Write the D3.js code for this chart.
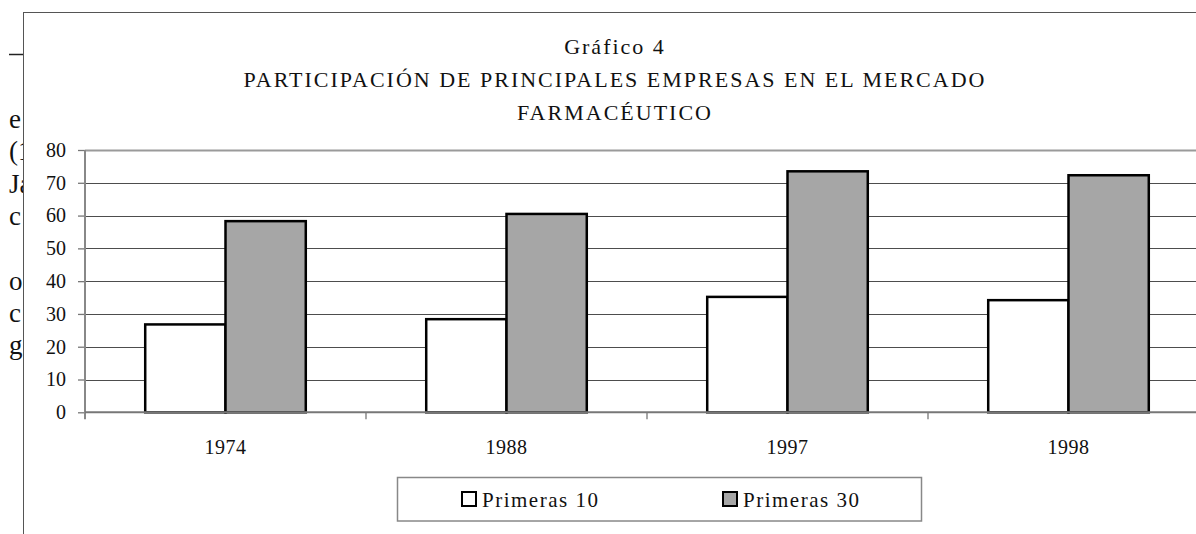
<!DOCTYPE html>
<html>
<head>
<meta charset="utf-8">
<script src="https://cdn.jsdelivr.net/npm/d3@7"></script>
<style>
  body { margin: 0; background: #fff; }
  svg text { font-family: "Liberation Serif", "Times New Roman", serif; fill: #111; }
</style>
</head>
<body>
<svg width="1196" height="534"></svg>
<script>
var years = ["1974", "1988", "1997", "1998"];
var seriesNames = ["Primeras 10", "Primeras 30"];
var primeras10 = [26.8, 28.4, 35.2, 34.2];
var primeras30 = [58.3, 60.5, 73.5, 72.3];
var yTicks = [0, 10, 20, 30, 40, 50, 60, 70, 80];
var titleLines = ["Gráfico 4", "PARTICIPACIÓN DE PRINCIPALES EMPRESAS EN EL MERCADO", "FARMACÉUTICO"];
// bits of the page text that stick out on the left of the chart frame
var marginText = ["e", "(1", "Ja", "c", "", "o", "c", "g"];

var svg = d3.select("svg");

var fills = d3.scaleOrdinal().domain(seriesNames).range(["#ffffff", "#a6a6a6"]);

// page text behind the frame
svg.append("g")
  .selectAll("text")
  .data(marginText)
  .enter().append("text")
    .attr("x", 9)
    .attr("y", function(d, i) { return 128 + i * 32.3; })
    .style("font-size", "27px")
    .text(function(d) { return d; });

svg.append("line")
    .attr("x1", 9).attr("x2", 24)
    .attr("y1", 54.5).attr("y2", 54.5)
    .style("stroke", "#222")
    .style("stroke-width", 1.5);

// chart frame
svg.append("rect")
    .attr("x", 23.5).attr("y", 12.5)
    .attr("width", 1300).attr("height", 700)
    .style("fill", "#fff")
    .style("stroke", "#555");

// title
svg.append("g")
  .selectAll("text")
  .data(titleLines)
  .enter().append("text")
    .attr("x", 615)
    .attr("y", function(d, i) { return 54 + i * 33; })
    .attr("text-anchor", "middle")
    .style("font-size", "22px")
    .style("letter-spacing", "2px")
    .text(function(d) { return d; });

var x = d3.scaleBand().domain(years).range([85, 1209]);
var x1 = d3.scaleBand()
    .domain(seriesNames)
    .range([x.bandwidth() * 0.2143, x.bandwidth() * 0.7857]);
var y = d3.scaleLinear().domain([0, 80]).range([412.3, 150]);

// gridlines
svg.append("g")
  .selectAll("line")
  .data(yTicks.slice(1))
  .enter().append("line")
    .attr("x1", 85).attr("x2", 1209)
    .attr("y1", function(d) { return Math.round(y(d)) + 0.5; })
    .attr("y2", function(d) { return Math.round(y(d)) + 0.5; })
    .style("stroke", function(d) { return d == 80 ? "#9a9a9a" : "#4d4d4d"; })
    .style("stroke-width", function(d) { return d == 80 ? 2 : 1.2; });

// y axis
var yAxis = svg.append("g")
    .attr("transform", "translate(85,0)")
    .call(d3.axisLeft(y).tickValues(yTicks).tickSize(7).tickSizeOuter(0).tickPadding(12));
yAxis.select(".domain").remove();
yAxis.selectAll(".tick line").style("stroke", "#777").style("stroke-width", 1.3);
yAxis.selectAll(".tick text")
    .style("font-size", "20px")
    .style("fill", "#111");

svg.append("line")
    .attr("x1", 85).attr("x2", 85)
    .attr("y1", y(80)).attr("y2", y(0) + 7)
    .style("stroke", "#888")
    .style("stroke-width", 2);

// x axis labels and separators
var xAxis = svg.append("g")
    .attr("transform", "translate(0," + y(0) + ")")
    .call(d3.axisBottom(x).tickSize(0).tickPadding(28));
xAxis.select(".domain").remove();
xAxis.selectAll(".tick text")
    .style("font-size", "20px")
    .style("letter-spacing", "0.5px")
    .style("fill", "#111");

svg.append("g")
  .selectAll("line")
  .data(years.slice(1))
  .enter().append("line")
    .attr("x1", function(d) { return x(d); })
    .attr("x2", function(d) { return x(d); })
    .attr("y1", y(0)).attr("y2", y(0) + 7)
    .style("stroke", "#777")
    .style("stroke-width", 1.3);

// bars
var groups = svg.append("g")
  .selectAll("g")
  .data(years)
  .enter().append("g")
    .attr("transform", function(d) { return "translate(" + x(d) + ",0)"; });

groups.selectAll("rect")
  .data(function(d, i) {
    return [
      { key: seriesNames[0], value: primeras10[i] },
      { key: seriesNames[1], value: primeras30[i] }
    ];
  })
  .enter().append("rect")
    .attr("x", function(d) { return x1(d.key); })
    .attr("y", function(d) { return y(d.value); })
    .attr("width", x1.bandwidth())
    .attr("height", function(d) { return y(0) - y(d.value); })
    .style("fill", function(d) { return fills(d.key); })
    .style("stroke", "#000")
    .style("stroke-width", 2.5);

// baseline over the bars' feet
svg.append("line")
    .attr("x1", 85).attr("x2", 1209)
    .attr("y1", y(0)).attr("y2", y(0))
    .style("stroke", "#777")
    .style("stroke-width", 2);

// legend
var legend = svg.append("g");
legend.append("rect")
    .attr("x", 397.5).attr("y", 477.5)
    .attr("width", 524).attr("height", 43.5)
    .style("fill", "#fff")
    .style("stroke", "#888")
    .style("stroke-width", 1.5);

var legendX = [462, 723];
var item = legend.selectAll(".item")
  .data(seriesNames)
  .enter().append("g")
    .attr("class", "item")
    .attr("transform", function(d, i) { return "translate(" + legendX[i] + ",492)"; });

item.append("rect")
    .attr("width", 14).attr("height", 14)
    .style("fill", function(d) { return fills(d); })
    .style("stroke", "#000")
    .style("stroke-width", 2);

item.append("text")
    .attr("x", 20)
    .attr("y", 14.5)
    .style("font-size", "21px")
    .style("letter-spacing", "1.5px")
    .text(function(d) { return d; });
</script>
</body>
</html>
